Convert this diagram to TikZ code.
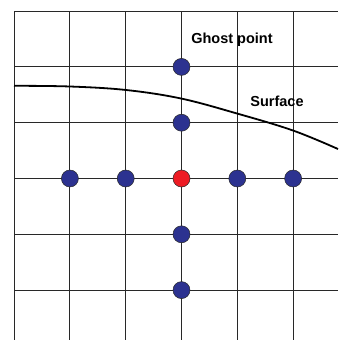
\documentclass[tikz,border=0pt]{standalone}
\usepackage{fontspec}
\setmainfont{Liberation Sans}
\usepackage{tikz}
\usetikzlibrary{positioning}
\definecolor{dotblue}{RGB}{44,50,144}
\definecolor{dotred}{RGB}{237,28,36}
\definecolor{gridgray}{RGB}{40,40,40}
\tikzset{
  gridln/.style={draw=gridgray, line width=1pt},
  surf/.style={draw=black, line width=1.8pt},
  pt/.style={circle, draw=gridgray, line width=0.5pt, minimum size=17pt, inner sep=0pt},
  ghost/.style={pt, fill=dotblue},
  cen/.style={pt, fill=dotred},
  lbl/.style={font=\fontsize{14.5}{17}\selectfont\bfseries, inner sep=0pt},
}

\begin{document}
\begin{tikzpicture}[x=1pt, y=-1pt]

  \useasboundingbox (0,0) rectangle (338,340);

  % grid
  \foreach \i in {0,...,5} {
    \draw[gridln] ({14+55.8*\i},11) -- ({14+55.8*\i},340);
    \draw[gridln] (14,{11+55.8*\i}) -- (338,{11+55.8*\i});
  }

  % surface
  \draw[surf] plot[smooth, tension=0.6] coordinates
    {(14,85.8) (70,86.5) (126,90) (181,98.5) (237,113.5) (293,130.5) (338,149)};

  % points
  \node[cen] (c) at (181.5,178.5) {};
  \node[ghost] (n1) at (181.5,122.7) {};
  \node[ghost] (n2) at (181.5,66.9) {};
  \node[ghost] (s1) at (181.5,234.3) {};
  \node[ghost] (s2) at (181.5,290.1) {};
  \node[ghost] (w1) at (125.7,178.5) {};
  \node[ghost] (w2) at (69.9,178.5) {};
  \node[ghost] (e1) at (237.3,178.5) {};
  \node[ghost] (e2) at (293.1,178.5) {};

  \node[lbl] (gpl) at (232,40) {Ghost point};
  \node[lbl] (sfl) at (277,101) {Surface};

\end{tikzpicture}
\end{document}
